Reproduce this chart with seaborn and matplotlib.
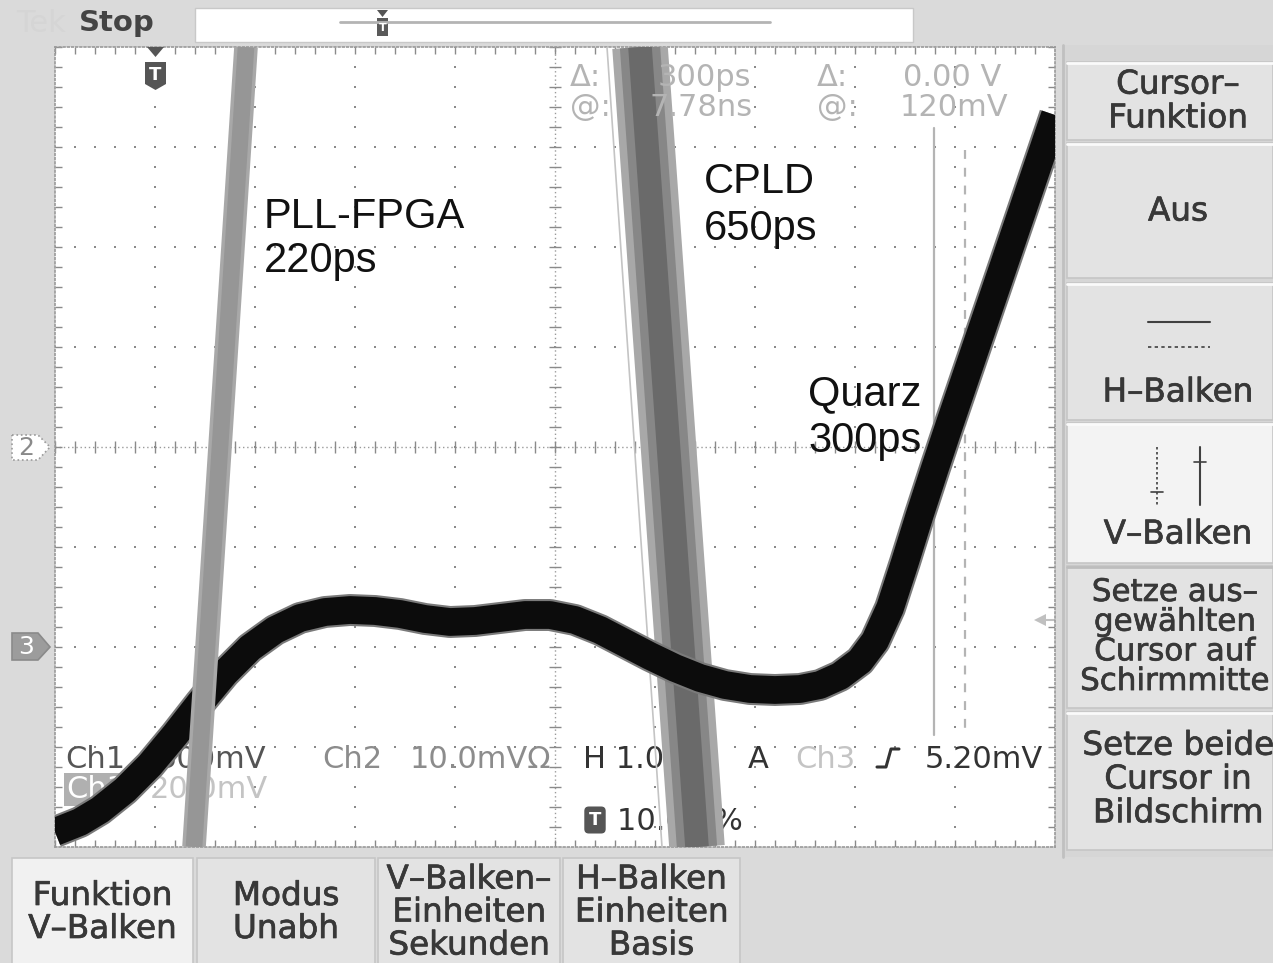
import numpy as np
import pandas as pd
import matplotlib
matplotlib.use("Agg")
import matplotlib.pyplot as plt
import matplotlib.patheffects as pe
import seaborn as sns
from matplotlib.patches import Rectangle, Polygon

sns.set_theme(style="white")
plt.rcParams['font.family'] = ['DejaVu Sans']

# ---- data (graticule divisions: x 0..10, y -4..4) ----
quarz_x = [0.00, 0.25, 0.45, 0.70, 0.95, 1.20, 1.45, 1.70, 1.95, 2.20, 2.45, 2.70,
           2.95, 3.20, 3.45, 3.70, 3.95, 4.20, 4.45, 4.70, 4.95, 5.20, 5.45, 5.70,
           5.95, 6.20, 6.45, 6.70, 6.95, 7.20, 7.45, 7.65, 7.85, 8.05, 8.20, 8.35,
           8.50, 8.65, 8.80, 8.95, 9.10, 9.25, 9.40, 9.55, 9.70, 9.85, 10.00]
quarz_y = [-3.85, -3.75, -3.63, -3.43, -3.18, -2.88, -2.56, -2.26, -2.01, -1.83, -1.71, -1.65,
           -1.63, -1.64, -1.67, -1.72, -1.75, -1.74, -1.71, -1.68, -1.68, -1.73, -1.83, -1.96,
           -2.09, -2.21, -2.31, -2.38, -2.42, -2.43, -2.42, -2.38, -2.29, -2.14, -1.94, -1.61,
           -1.15, -0.67, -0.21, 0.24, 0.68, 1.12, 1.56, 2.00, 2.44, 2.88, 3.32]
pll_x = [1.91, 1.39]
pll_y = [4.0, -4.0]
cpld_x = [5.85, 6.42]
cpld_y = [4.0, -4.0]
cpld_edge_x = [5.52, 6.07]
cursor_x = [8.79, 9.10]
cursor_top = [3.19, 2.97]
cursor_bottom = -2.88

label_names = ["PLL-FPGA", "CPLD", "Quarz"]
label_times = ["220ps", "650ps", "300ps"]
label_px = [(264, 228, 272), (704, 193, 240), (808, 405, 452)]

right_menu = ["Cursor\u2013\nFunktion", "Aus", "H\u2013Balken", "V\u2013Balken",
              "Setze aus\u2013\ngew\u00e4hlten\nCursor auf\nSchirmmitte",
              "Setze beide\nCursor in\nBildschirm"]
bottom_menu = ["Funktion\nV\u2013Balken", "Modus\nUnabh",
               "V\u2013Balken\u2013\nEinheiten\nSekunden", "H\u2013Balken\nEinheiten\nBasis"]

W, H = 1273, 963
fig = plt.figure(figsize=(W / 100, H / 100), dpi=100, facecolor='#dadada')
menu_fx = [pe.withStroke(linewidth=0.5, foreground='#383838')]

# background / menus in pixel coords
bg = fig.add_axes([0, 0, 1, 1])
bg.set_xlim(0, W)
bg.set_ylim(H, 0)
bg.axis('off')

bg.add_patch(Rectangle((0, 0), W, H, facecolor='#dadada', edgecolor='none'))
bg.add_patch(Rectangle((195, 8), 718, 34, facecolor='white', edgecolor='#c8c8c8', lw=1))
bg.plot([340, 770], [22, 22], color='#b4b4b4', lw=2)
bg.add_patch(Polygon([(377, 10), (388, 10), (382.5, 17)], closed=True, facecolor='#555', edgecolor='none'))
bg.add_patch(Rectangle((377, 18), 11, 18, facecolor='#5a5a5a', edgecolor='none'))
bg.text(382.5, 28, "T", color='white', fontsize=8, fontweight='bold', ha='center', va='center')
bg.text(16, 24, "Tek", color='#d5d5d5', fontsize=22, va='center')
bg.text(79, 23, "Stop", color='#444444', fontsize=21, fontweight='bold', va='center')

# right menu
bg.add_patch(Rectangle((1062, 45), 211, 812, facecolor='#d6d6d6', edgecolor='none'))
bg.plot([1063, 1063], [45, 857], color='#c0c0c0', lw=2)
rboxes = [(62, 140), (143, 278), (283, 420), (423, 563), (566, 708), (712, 850)]
rcent = [101, 211, 392, 534, 637, 779]
for i, ((y0, y1), txt, yc) in enumerate(zip(rboxes, right_menu, rcent)):
    face = '#f3f3f3' if i == 3 else '#e3e3e3'
    bg.add_patch(Rectangle((1067, y0), 206, y1 - y0, facecolor=face, edgecolor='#c6c6c6', lw=1.2))
    bg.plot([1067, 1273], [y0 + 1, y0 + 1], color='#fafafa' if i != 4 else '#bdbdbd', lw=2)
    fs = 22.3 if i == 4 else 23.5
    cx = 1175 if i == 4 else 1178
    bg.text(cx, yc, txt, color='#383838', fontsize=fs, ha='center', va='center', linespacing=1.03,
            path_effects=menu_fx)

# H-Balken / V-Balken icons
bg.plot([1148, 1210], [322, 322], color='#404040', lw=1.5)
bg.plot([1148, 1210], [347, 347], color='#404040', lw=1.2, ls=(0, (2, 2)))
bg.plot([1157, 1157], [447, 505], color='#404040', lw=1.2, ls=(0, (1.5, 1.5)))
bg.plot([1151, 1163], [492, 492], color='#404040', lw=1.2)
bg.plot([1200, 1200], [447, 505], color='#404040', lw=1.5)
bg.plot([1194, 1206], [462, 462], color='#404040', lw=1.2)

# bottom menu
bboxes = [(12, 193), (197, 375), (378, 560), (563, 740)]
for i, ((x0, x1), txt) in enumerate(zip(bboxes, bottom_menu)):
    face = '#f1f1f1' if i == 0 else '#e3e3e3'
    bg.add_patch(Rectangle((x0, 858), x1 - x0, 110, facecolor=face, edgecolor='#c6c6c6', lw=1.2))
    bg.text((x0 + x1) / 2, 912, txt, color='#383838', fontsize=23.5, ha='center', va='center',
            linespacing=1.0, path_effects=menu_fx)

# channel markers on the left
bg.add_patch(Polygon([(12, 435), (38, 435), (50, 447), (38, 460), (12, 460)], closed=True,
                     facecolor='white', edgecolor='#9a9a9a', lw=1.2, ls=':'))
bg.text(26, 448, "2", color='#8a8a8a', fontsize=18, ha='center', va='center')
bg.add_patch(Polygon([(12, 633), (38, 633), (50, 647), (38, 660), (12, 660)], closed=True,
                     facecolor='#9c9c9c', edgecolor='#8a8a8a', lw=1.2))
bg.text(26, 647, "3", color='white', fontsize=18, ha='center', va='center')

# ---- graticule ----
ax = fig.add_axes([55 / W, (H - 847) / H, 1000 / W, 800 / H])
ax.set_facecolor('white')
ax.set_xlim(0, 10)
ax.set_ylim(-4, 4)
ax.set_xticks([])
ax.set_yticks([])
for s in ax.spines.values():
    s.set_color('#9a9a9a')
    s.set_linestyle((0, (1, 1.5)))
    s.set_linewidth(1.2)


def gx(px):
    return (px - 55) / 100


def gy(py):
    return (447 - py) / 100


fine_x = np.arange(0, 10.01, 0.2)
fine_y = np.arange(-4, 4.01, 0.2)
dx, dy = [], []
for k in [1, 2, 3, 4, 6, 7, 8, 9]:
    dx += [k] * len(fine_y)
    dy += list(fine_y)
for k in [-3, -2, -1, 1, 2, 3]:
    dx += list(fine_x)
    dy += [k] * len(fine_x)
ax.plot(dx, dy, ls='none', marker='s', ms=1.6, mew=0, color='#8a8a8a', zorder=1)
ax.axvline(5, color='#9a9a9a', lw=1.0, ls=(0, (1, 2)), zorder=1)
ax.axhline(0, color='#9a9a9a', lw=1.0, ls=(0, (1, 2)), zorder=1)
ax.hlines(fine_y, 4.94, 5.06, color='#8a8a8a', lw=1.0, zorder=1)
ax.vlines(fine_x, -0.06, 0.06, color='#8a8a8a', lw=1.0, zorder=1)
ax.vlines(fine_x, 3.93, 4.0, color='#8a8a8a', lw=1.0, zorder=1)
ax.vlines(fine_x, -4.0, -3.93, color='#8a8a8a', lw=1.0, zorder=1)
ax.hlines(fine_y, 0, 0.07, color='#8a8a8a', lw=1.0, zorder=1)
ax.hlines(fine_y, 9.93, 10, color='#8a8a8a', lw=1.0, zorder=1)

# cursor readouts (drawn over the CPLD band)
ro = dict(fontsize=22, va='baseline')
ax.text(gx(570), gy(86), "\u0394:", color='#b4b4b4', zorder=3.5, **ro)
ax.text(gx(658), gy(86), "300ps", color='#b4b4b4', zorder=3.5, **ro)
ax.text(gx(570), gy(116), "@:", color='#b4b4b4', zorder=3.5, **ro)
ax.text(gx(650), gy(116), "7.78ns", color='#b4b4b4', zorder=3.5, **ro)
ax.text(gx(817), gy(86), "\u0394:", color='#b4b4b4', zorder=3.5, **ro)
ax.text(gx(903), gy(86), "0.00 V", color='#b4b4b4', zorder=3.5, **ro)
ax.text(gx(817), gy(116), "@:", color='#b4b4b4', zorder=3.5, **ro)
ax.text(gx(900), gy(116), "120mV", color='#b4b4b4', zorder=3.5, **ro)

# channel readouts
ax.text(gx(65), gy(768), "Ch1", color='#555555', zorder=2, **ro)
ax.text(gx(158), gy(768), "500mV", color='#555555', zorder=2, **ro)
ax.text(gx(322), gy(768), "Ch2", color='#8c8c8c', zorder=2, **ro)
ax.text(gx(410), gy(768), "10.0mV\u03a9", color='#8c8c8c', zorder=2, **ro)
ax.text(gx(583), gy(768), "H 1.00ns", color='#333333', zorder=2, **ro)
ax.text(gx(748), gy(768), "A", color='#333333', zorder=2, **ro)
ax.text(gx(795), gy(768), "Ch3", color='#c4c4c4', zorder=2, **ro)
ax.plot([gx(877), gx(886), gx(891), gx(899)], [gy(767), gy(767), gy(749), gy(749)],
        color='#333333', lw=2.2, zorder=2)
ax.text(gx(925), gy(768), "5.20mV", color='#333333', zorder=2, **ro)
ax.text(gx(66), gy(798), "Ch3", color='white', bbox=dict(facecolor='#b0b0b0', edgecolor='none', pad=1),
        zorder=2, **ro)
ax.text(gx(150), gy(798), "20.0mV", color='#c4c4c4', zorder=2, **ro)
ax.text(gx(595), gy(820), "T", color='white', fontsize=13, fontweight='bold', ha='center', va='center',
        bbox=dict(facecolor='#555555', edgecolor='none', boxstyle='round,pad=0.25'), zorder=2)
ax.text(gx(617), gy(830), "10.00 %", color='#333333', zorder=2, **ro)

# cursors
for cx, ct, cls in zip(cursor_x, cursor_top, ['-', (0, (4, 4))]):
    ax.plot([cx, cx], [ct, cursor_bottom], color='#b4b4b4', lw=1.6, ls=cls, zorder=2)

# trigger marker + level arrow
ax.add_patch(Polygon([(gx(147), gy(47)), (gx(164), gy(47)), (gx(155.5), gy(57))], closed=True,
                     facecolor='#555555', edgecolor='none', zorder=6))
ax.add_patch(Polygon([(gx(145), gy(62)), (gx(166), gy(62)), (gx(166), gy(84)), (gx(155.5), gy(90)),
                      (gx(145), gy(84))], closed=True, facecolor='#555555', edgecolor='none', zorder=6))
ax.text(gx(155.5), gy(75), "T", color='white', fontsize=13, fontweight='bold', ha='center', va='center',
        zorder=7)
ax.plot([gx(1040), gx(1055)], [gy(620), gy(620)], color='#c0c0c0', lw=1.5, zorder=2)
ax.plot([gx(1040)], [gy(620)], marker='<', ms=9, color='#c0c0c0', mew=0, zorder=2)

# ---- traces ----
cpld = pd.DataFrame({'x': cpld_x, 'y': cpld_y})
sns.lineplot(data=cpld, x='x', y='y', ax=ax, sort=False, estimator=None, color='#a8a8a8', lw=40,
             solid_capstyle='butt', zorder=3)
sns.lineplot(data=cpld, x='x', y='y', ax=ax, sort=False, estimator=None, color='#878787', lw=29,
             solid_capstyle='butt', zorder=3)
sns.lineplot(data=cpld, x='x', y='y', ax=ax, sort=False, estimator=None, color='#6a6a6a', lw=17,
             solid_capstyle='butt', zorder=3)
sns.lineplot(x=cpld_edge_x, y=cpld_y, ax=ax, sort=False, estimator=None, color='#c4c4c4', lw=1.2,
             zorder=3)

quarz = pd.DataFrame({'x': quarz_x, 'y': quarz_y})
sns.lineplot(data=quarz, x='x', y='y', ax=ax, sort=False, estimator=None, color='#7a7a7a', lw=23,
             solid_capstyle='butt', zorder=4)
sns.lineplot(data=quarz, x='x', y='y', ax=ax, sort=False, estimator=None, color='#0c0c0c', lw=20,
             solid_capstyle='butt', zorder=4)

pll = pd.DataFrame({'x': pll_x, 'y': pll_y})
sns.lineplot(data=pll, x='x', y='y', ax=ax, sort=False, estimator=None, color='#a8a8a8', lw=17,
             solid_capstyle='butt', zorder=5)
sns.lineplot(data=pll, x='x', y='y', ax=ax, sort=False, estimator=None, color='#969696', lw=12,
             solid_capstyle='butt', zorder=5)

ax.set_xlim(0, 10)
ax.set_ylim(-4, 4)
ax.set_xlabel('')
ax.set_ylabel('')

# labels
for name, t, (lx, b1, b2) in zip(label_names, label_times, label_px):
    ax.text(gx(lx), gy(b1), name, color='#111111', fontsize=30, va='baseline',
            family=['Liberation Sans', 'DejaVu Sans'], zorder=6)
    ax.text(gx(lx), gy(b2), t, color='#111111', fontsize=30, va='baseline',
            family=['Liberation Sans', 'DejaVu Sans'], zorder=6)

fig.savefig('out.png', dpi=100, facecolor=fig.get_facecolor())
